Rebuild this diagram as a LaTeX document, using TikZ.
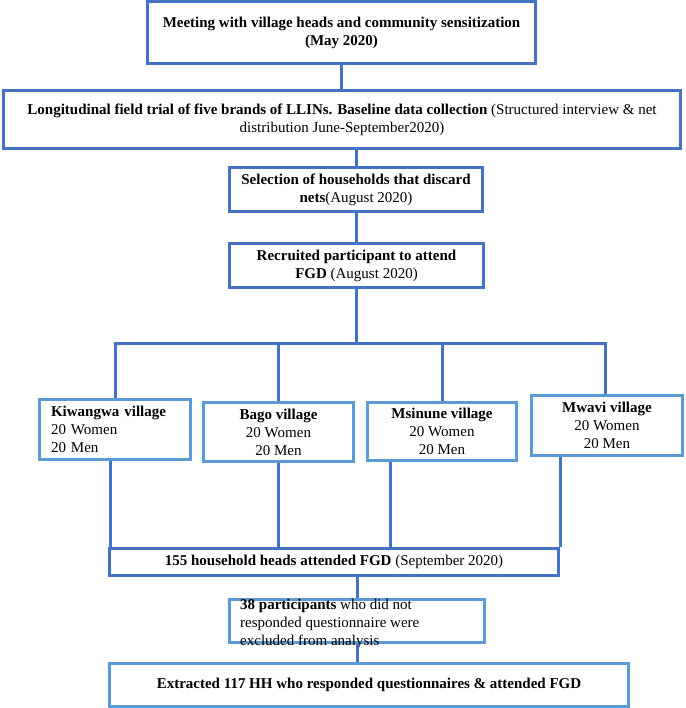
\documentclass[tikz,border=0pt]{standalone}
\usepackage{fontspec}
\setmainfont{Liberation Serif}
\definecolor{dk}{HTML}{4472C4}
\definecolor{lt}{HTML}{5B9BD5}
\begin{document}
\begin{tikzpicture}[x=1pt,y=-1pt,
  box/.style={draw=dk,line width=3pt,inner sep=0pt,align=center,font=\fontsize{15}{18}\selectfont},
  vbox/.style={box,draw=lt},
  txt/.style={inner sep=0pt,font=\fontsize{15}{18}\selectfont},
  link/.style={draw=dk,line width=3pt}]
\useasboundingbox (0,0) rectangle (685,708);
\node[box,minimum width=388,minimum height=62] (b1) at (341.5,33)
  {\textbf{Meeting with village heads and community sensitization}\\\textbf{(May 2020)}};
\node[box,minimum width=677,minimum height=58] (b2) at (342,119.5)
  {\textbf{Longitudinal field trial of five brands of LLINs. Baseline data collection} (Structured interview \& net\\distribution June-September2020)};
\node[box,minimum width=253,minimum height=44] (b3) at (356,189.5)
  {\textbf{Selection of households that discard}\\\textbf{nets}(August 2020)};
\node[box,minimum width=254,minimum height=44] (b4) at (356.5,265.5)
  {\textbf{Recruited participant to attend}\\\textbf{FGD} (August 2020)};
\coordinate (barc) at (355,343);
\node[vbox,minimum width=151,minimum height=60,text width=128,align=left] (kiw) at (115,429)
  {\textbf{Kiwangwa village}\\20 Women\\20 Men};
\node[vbox,minimum width=150,minimum height=59] (bag) at (278.5,432)
  {\textbf{Bago village}\\20 Women\\20 Men};
\node[vbox,minimum width=149,minimum height=58] (msi) at (442,431.5)
  {\textbf{Msinune village}\\20 Women\\20 Men};
\node[vbox,minimum width=151,minimum height=60] (mwa) at (607,425.5)
  {\textbf{Mwavi village}\\20 Women\\20 Men};
\node[box,minimum width=449,minimum height=27] (f155) at (334,561.5)
  {\textbf{155 household heads attended FGD} (September 2020)};
\node[vbox,minimum width=255,minimum height=43] (b38) at (357,621) {};
\node[txt,anchor=north west,align=left] (t38) at (240,599)
  {\textbf{38 participants} who did not\\responded questionnaire were\\excluded from analysis};
\node[vbox,minimum width=519,minimum height=43] (ext) at (369,684.5)
  {\textbf{Extracted 117 HH who responded questionnaires \& attended FGD}};
\draw[link] (b1.south) -- (b1.south |- b2.north);
\draw[link] (b3.north) -- (b3.north |- b2.south);
\draw[link] (b3.south) -- (b3.south |- b4.north);
\draw[link] (b4.south) -- (b4.south |- barc);
\draw[link] (kiw.north) -- (kiw.north |- barc) -- ([xshift=-2pt]mwa.north |- barc) -- ([xshift=-2pt]mwa.north);
\draw[link] (bag.north) -- (bag.north |- barc);
\draw[link] (msi.north) -- (msi.north |- barc);
\draw[link] ([xshift=-5pt]kiw.south) -- ([xshift=-5pt]kiw.south |- f155.north);
\draw[link] (bag.south) -- (bag.south |- f155.north);
\draw[link] ([xshift=-52pt]msi.south) -- ([xshift=-52pt]msi.south |- f155.north);
\draw[link] ([xshift=-47pt]mwa.south) -- ([xshift=-47pt]mwa.south |- f155.north);
\draw[link] (b38.north) -- (b38.north |- f155.south);
\draw[link] (b38.south) -- (b38.south |- ext.north);
\end{tikzpicture}
\end{document}
